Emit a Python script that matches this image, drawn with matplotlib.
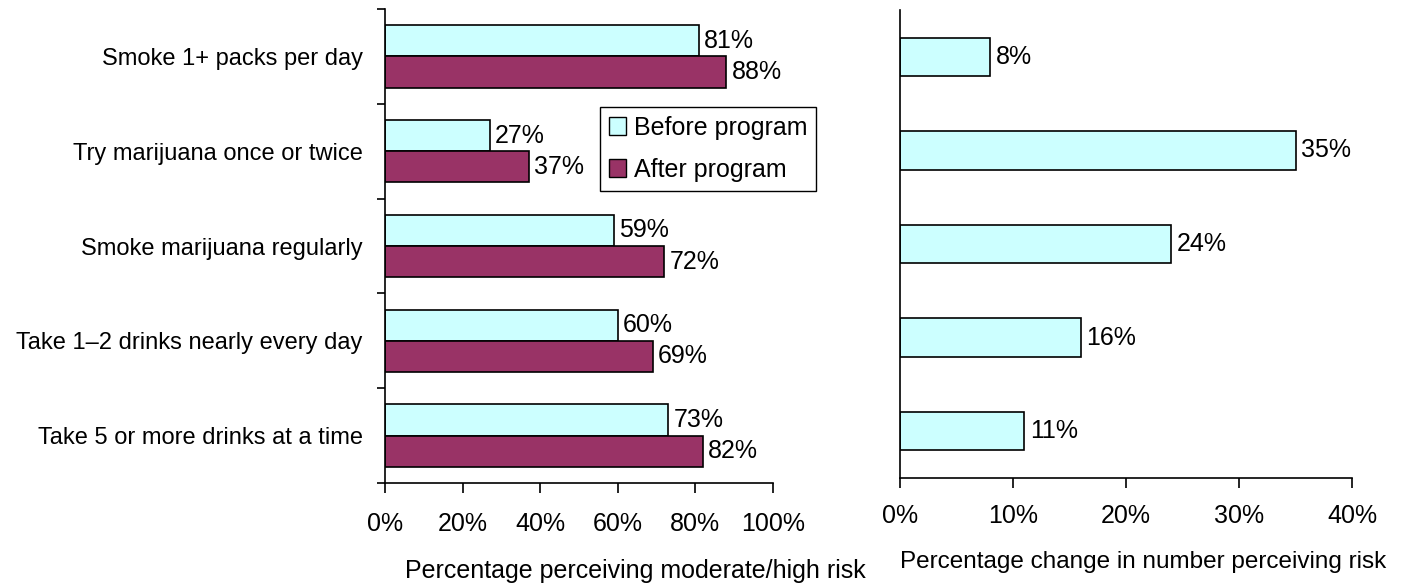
import matplotlib
matplotlib.use("Agg")
import matplotlib.pyplot as plt
from matplotlib.ticker import FixedLocator
from matplotlib.patches import Patch

plt.rcParams['font.family'] = ['Liberation Sans', 'DejaVu Sans']

categories = [
    "Smoke 1+ packs per day",
    "Try marijuana once or twice",
    "Smoke marijuana regularly",
    "Take 1\u20132 drinks nearly every day",
    "Take 5 or more drinks at a time",
]
before = [81, 27, 59, 60, 73]
after = [88, 37, 72, 69, 82]
change = [8, 35, 24, 16, 11]

left_ticks = [0, 20, 40, 60, 80, 100]
right_ticks = [0, 10, 20, 30, 40]

c_before = "#CCFFFF"
c_after = "#993366"
FS = 18
FS_CAT = 17

W, H = 1411, 588
fig = plt.figure(figsize=(W / 100, H / 100), dpi=100)

def frac(x0, x1, ytop, ybot):
    return [x0 / W, 1 - ybot / H, (x1 - x0) / W, (ybot - ytop) / H]

axL = fig.add_axes(frac(385, 773, 9, 483))
axR = fig.add_axes(frac(900, 1352, 10, 478))

n = len(categories)
ypos = list(range(n))
bh = 0.33

# Left panel: before / after pairs
axL.barh([y - bh / 2 for y in ypos], before, height=bh, color=c_before,
         edgecolor="black", linewidth=1.2)
axL.barh([y + bh / 2 for y in ypos], after, height=bh, color=c_after,
         edgecolor="black", linewidth=1.2)
for y, b, a in zip(ypos, before, after):
    axL.text(b + 1.3, y - bh / 2, f"{b}%", va="center", ha="left", fontsize=FS)
    axL.text(a + 1.3, y + bh / 2, f"{a}%", va="center", ha="left", fontsize=FS)

axL.set_xlim(0, 100)
axL.set_ylim(n - 0.5, -0.5)
axL.set_xticks(left_ticks)
axL.set_xticklabels([f"{t}%" for t in left_ticks], fontsize=FS)
axL.set_yticks(ypos)
axL.set_yticklabels(categories, fontsize=FS_CAT)
axL.tick_params(axis="y", which="major", length=0, pad=16)
axL.yaxis.set_minor_locator(FixedLocator([i - 0.5 for i in range(n + 1)]))
axL.tick_params(axis="y", which="minor", length=6, width=1.2, direction="out")
axL.tick_params(axis="x", length=7, width=1.2, direction="out", pad=14)
for s in ["top", "right"]:
    axL.spines[s].set_visible(False)
for s in ["left", "bottom"]:
    axL.spines[s].set_linewidth(1.2)

leg = axL.legend(handles=[Patch(facecolor=c_before, edgecolor="black", label="Before program"),
                          Patch(facecolor=c_after, edgecolor="black", label="After program")],
                 loc="upper left", bbox_to_anchor=(600 / W, 1 - 107 / H),
                 bbox_transform=fig.transFigure, fontsize=FS, fancybox=False,
                 framealpha=1, edgecolor="black", handlelength=0.7, handleheight=0.7,
                 handletextpad=0.3, borderpad=0.35, labelspacing=0.72, borderaxespad=0)
leg.get_frame().set_linewidth(1.0)

# Right panel: percentage change
bw = 0.41
axR.barh(ypos, change, height=bw, color=c_before, edgecolor="black", linewidth=1.2)
for y, c in zip(ypos, change):
    axR.text(c + 0.5, y, f"{c}%", va="center", ha="left", fontsize=FS)
axR.set_xlim(0, 40)
axR.set_ylim(n - 0.5, -0.5)
axR.set_xticks(right_ticks)
axR.set_xticklabels([f"{t}%" for t in right_ticks], fontsize=FS)
axR.set_yticks([])
axR.tick_params(axis="x", length=7, width=1.2, direction="out", pad=12)
for s in ["top", "right"]:
    axR.spines[s].set_visible(False)
for s in ["left", "bottom"]:
    axR.spines[s].set_linewidth(1.2)

fig.text(635 / W, 1 - 571 / H, "Percentage perceiving moderate/high risk",
         ha="center", va="center", fontsize=FS)
fig.text(1143 / W, 1 - 562 / H, "Percentage change in number perceiving risk",
         ha="center", va="center", fontsize=17.5)

fig.savefig("out.png", dpi=100, facecolor="white")
